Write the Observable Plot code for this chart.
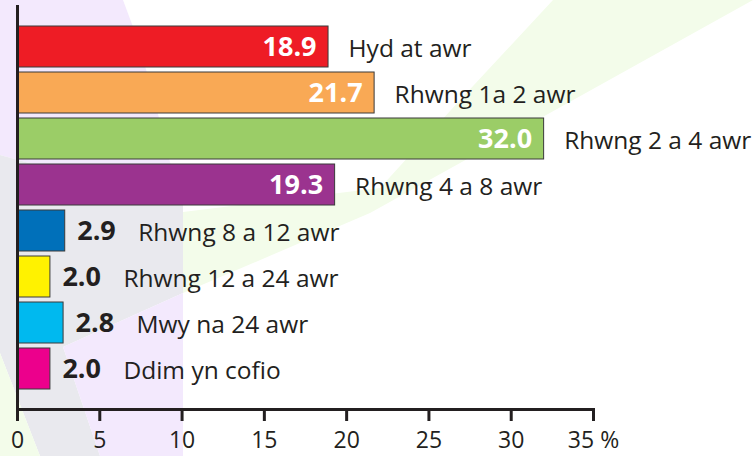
<!DOCTYPE html>
<html>
<head>
<meta charset="utf-8">
<script src="https://cdn.jsdelivr.net/npm/d3@7"></script>
<script src="https://cdn.jsdelivr.net/npm/@observablehq/plot@0.6"></script>
<style>
  html, body { margin: 0; padding: 0; background: #fff; }
  #chart { width: 754px; height: 456px; }
</style>
</head>
<body>
<div id="chart"></div>
<script>
const categories = ["Hyd at awr", "Rhwng 1a 2 awr", "Rhwng 2 a 4 awr", "Rhwng 4 a 8 awr",
  "Rhwng 8 a 12 awr", "Rhwng 12 a 24 awr", "Mwy na 24 awr", "Ddim yn cofio"];
const values = [18.9, 21.7, 32.0, 19.3, 2.9, 2.0, 2.8, 2.0];
const colors = ["#ee1c25", "#f9a955", "#9bcd67", "#9b338f", "#0070ba", "#fff200", "#00b9ef", "#ec008c"];
const xTicks = [0, 5, 10, 15, 20, 25, 30, 35];
const xTickLabels = ["0", "5", "10", "15", "20", "25", "30", "35 %"];

const data = categories.map((c, i) => ({category: c, value: values[i], color: colors[i]}));
const big = data.filter(d => d.value >= 5);
const small = data.filter(d => d.value < 5);
const fmt = d3.format(".1f");
const ink = "#231f20";
const font = "'Open Sans', 'Noto Sans', sans-serif";

// decorative pinwheel background
function background(index, scales, values, dims) {
  const g = d3.create("svg:g");
  const shapes = [
    {fill: "#f3e9fd", pts: [[0,0],[123,0],[136,35],[152,90],[170,162],[183,205],[0,155]]},
    {fill: "#e9e9ee", pts: [[0,155],[183,205],[183,293],[63,347],[100,456],[40,456],[0,353]]},
    {fill: "#f3e9fd", pts: [[183,293],[63,347],[100,456],[183,456]]},
    {fill: "#f3fcea", pts: [[0,353],[40,456],[0,456]]},
    {fill: "#f3fcea", pts: [[553,0],[753,0],[370,213],[183,293],[183,212],[380,188],[460,100]]}
  ];
  for (const s of shapes) {
    g.append("polygon").attr("points", s.pts.map(p => p.join(",")).join(" ")).attr("fill", s.fill);
  }
  return g.node();
}

const chart = Plot.plot({
  width: 754,
  height: 456,
  marginLeft: 17,
  marginRight: 161,
  marginTop: 5,
  marginBottom: 47,
  style: {fontFamily: font, fontSize: "23px", color: ink, background: "transparent"},
  x: {domain: [0, 35], label: null},
  y: {domain: categories, range: [18.3, 397.4], paddingInner: 0.1, paddingOuter: 0.1, axis: null},
  marks: [
    background,
    Plot.barX(data, {y: "category", x: "value", fill: "color", stroke: "#3a3a3a", strokeWidth: 1}),
    Plot.text(big, {y: "category", x: "value", text: d => fmt(d.value), textAnchor: "end", dx: -12,
      fill: "white", fontWeight: "bold", fontSize: 27}),
    Plot.text(small, {y: "category", x: "value", text: d => fmt(d.value), textAnchor: "start", dx: 12,
      fill: ink, fontWeight: "bold", fontSize: 27}),
    Plot.text(big, {y: "category", x: "value", text: "category", textAnchor: "start", dx: 20, dy: 2,
      fill: ink, fontSize: 24.5}),
    Plot.text(small, {y: "category", x: "value", text: "category", textAnchor: "start", dx: 73, dy: 2,
      fill: ink, fontSize: 24.5}),
    Plot.axisX({ticks: xTicks, tickFormat: d => xTickLabels[xTicks.indexOf(d)], tickSize: 12,
      tickPadding: 10, strokeWidth: 3, fontSize: 23, fill: ink, stroke: ink, label: null}),
    Plot.frame({anchor: "bottom", stroke: ink, strokeWidth: 3}),
    Plot.ruleX([0], {stroke: ink, strokeWidth: 3})
  ]
});
document.getElementById("chart").appendChild(chart);
</script>
</body>
</html>
